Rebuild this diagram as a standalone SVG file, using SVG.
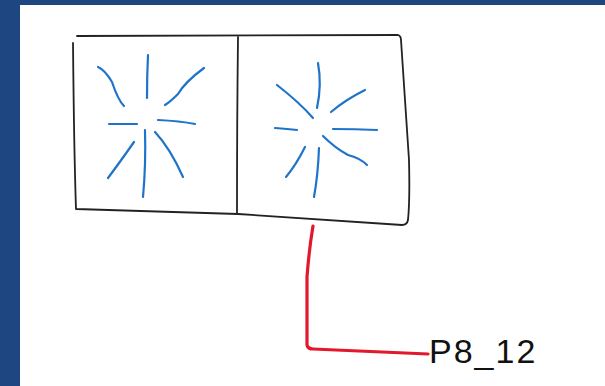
<svg xmlns="http://www.w3.org/2000/svg" width="605" height="386" viewBox="0 0 605 386">
<style>
.frame{fill:#1e4680}
.box{fill:none;stroke:#222;stroke-width:1.8;stroke-linecap:round;stroke-linejoin:round}
.ray{fill:none;stroke:#1f74c9;stroke-width:2.2;stroke-linecap:round}
.wire{fill:none;stroke:#e3182d;stroke-width:3.2;stroke-linecap:round;stroke-linejoin:round}
.lbl{font-family:"Liberation Sans",Arial,sans-serif;font-size:34px;fill:#111}
</style>
<rect x="0" y="0" width="605" height="386" fill="#fff"/>
<rect class="frame" x="0" y="0" width="20" height="386"/>
<rect class="frame" x="0" y="0" width="605" height="5"/>
<g id="panel">
<path class="box" d="M77,36 L398,35 Q401,36 401,40 Q405,100 409,160 Q410,200 408,220 Q407,225 402,225 L238,214 L76,209 Q74,150 73,43"/>
<path class="box" d="M238,37 Q237,120 237,213"/>
</g>
<g id="fan-left">
<path class="ray" d="M98,67 Q105,70 112,82 Q118,100 124,106"/>
<path class="ray" d="M148,55 Q147,75 147,98"/>
<path class="ray" d="M204,68 Q185,82 178,94 Q170,102 165,105"/>
<path class="ray" d="M109,124 L137,124"/>
<path class="ray" d="M158,120 Q180,121 195,124"/>
<path class="ray" d="M134,142 Q120,162 108,178"/>
<path class="ray" d="M145,130 Q146,165 143,197"/>
<path class="ray" d="M155,132 Q170,148 183,177"/>
</g>
<g id="fan-right">
<path class="ray" d="M318,63 Q322,85 317,108"/>
<path class="ray" d="M277,85 Q300,103 313,118"/>
<path class="ray" d="M365,90 Q345,100 331,112"/>
<path class="ray" d="M275,128 Q288,129 297,130"/>
<path class="ray" d="M333,129 Q355,129 377,130"/>
<path class="ray" d="M323,136 Q335,148 348,155 Q360,158 367,165"/>
<path class="ray" d="M305,147 Q296,165 286,177"/>
<path class="ray" d="M319,148 Q318,175 314,197"/>
</g>
<g id="connectors">
<path class="wire" d="M313,226 Q309,250 307,277 L307,345 Q308,349 313,349 L428,354"/>
</g>
<g id="label">
<text class="lbl" x="429" y="363" letter-spacing="2">P8_12</text>
</g>
</svg>
